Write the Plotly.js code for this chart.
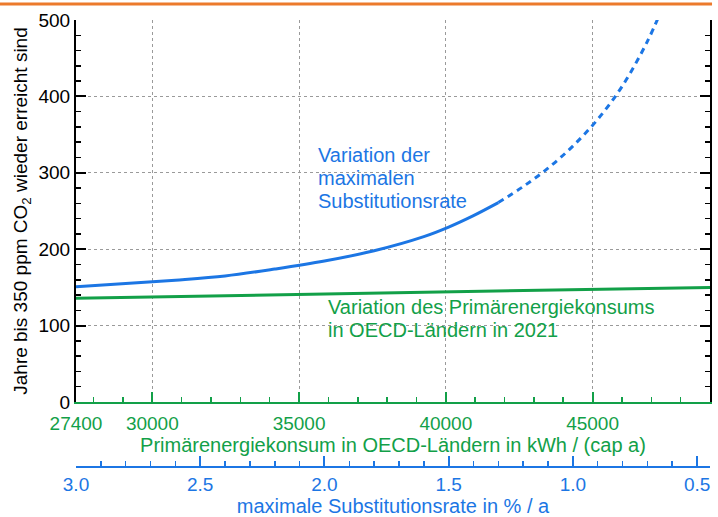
<!DOCTYPE html>
<html>
<head>
<meta charset="utf-8">
<script src="https://cdn.plot.ly/plotly-3.0.1.min.js"></script>
<style>html,body{margin:0;padding:0;background:#fff;}#chart{width:718px;height:517px;}</style>
</head>
<body>
<div id="chart"></div>
<script>
// Blue curve: years vs. maximal substitution rate (% / a)
const subRateSolid = [3.0, 2.8, 2.6, 2.4, 2.2, 2.0, 1.8, 1.6, 1.5, 1.4, 1.3];
const yearsSolid   = [151, 155, 159.5, 165, 174, 184.5, 198, 216.5, 229, 244, 261];
const subRateDashed = [1.3, 1.2, 1.1, 1.0, 0.9, 0.8, 0.7, 0.65];
const yearsDashed   = [261, 282, 306, 335, 370, 414, 472, 508];

// Green curve: years vs. primary energy consumption (kWh / (cap a))
const energy      = [27400, 30000, 35000, 40000, 45000, 49000];
const yearsEnergy = [135.8, 137.5, 141, 143.8, 146.8, 150];

// Tick labels
const energyTicks = [27400, 30000, 35000, 40000, 45000];
const energyTickLabels = ['27400', '30000', '35000', '40000', '45000'];
const topTicks = [30000, 35000, 40000, 45000];

const BLUE = '#1C76E4';
const GREEN = '#12A048';
const ORANGE = '#EC7A2C';
const FONT = 'Arial, "Liberation Sans", sans-serif';

const traces = [
  {x: subRateSolid, y: yearsSolid, xaxis: 'x2', yaxis: 'y', mode: 'lines',
   line: {color: BLUE, width: 3, shape: 'spline'}, hoverinfo: 'skip'},
  {x: subRateDashed, y: yearsDashed, xaxis: 'x2', yaxis: 'y', mode: 'lines',
   line: {color: BLUE, width: 3, shape: 'spline', dash: '6px,5px'}, hoverinfo: 'skip'},
  {x: energy, y: yearsEnergy, xaxis: 'x', yaxis: 'y', mode: 'lines',
   line: {color: GREEN, width: 3}, hoverinfo: 'skip'}
];

const layout = {
  width: 718, height: 517,
  margin: {l: 76, r: 8, t: 20, b: 0},
  paper_bgcolor: '#fff', plot_bgcolor: '#fff',
  showlegend: false,
  font: {family: FONT, size: 19, color: '#000'},
  xaxis: {
    range: [27400, 49000], anchor: 'y',
    tickmode: 'array', tickvals: energyTicks, ticktext: energyTickLabels,
    ticks: 'inside', ticklen: 10, tickwidth: 2, tickcolor: GREEN,
    showline: true, linecolor: GREEN, linewidth: 2,
    tickfont: {color: GREEN, size: 19, family: FONT}, ticklabelstandoff: 3,
    showgrid: true, gridcolor: '#9a9a9a', griddash: 'dot', gridwidth: 1,
    zeroline: false,
    minor: {ticks: 'inside', ticklen: 5, tickwidth: 1.5, tickcolor: GREEN, tickmode: 'linear', tick0: 0, dtick: 1000, showgrid: false},
    title: {text: 'Primärenergiekonsum in OECD-Ländern in kWh / (cap a)', font: {color: GREEN, size: 20, family: FONT}, standoff: 0}
  },
  xaxis2: {
    range: [3.0, 0.448], overlaying: 'x', anchor: 'free', position: 0.1006, side: 'bottom',
    tickmode: 'linear', tick0: 0, dtick: 0.5, tickformat: '.1f',
    ticks: 'inside', ticklen: 10, tickwidth: 2, tickcolor: BLUE,
    showline: true, linecolor: BLUE, linewidth: 2,
    tickfont: {color: BLUE, size: 19, family: FONT},
    showgrid: false, zeroline: false,
    minor: {ticks: 'inside', ticklen: 5, tickwidth: 1.5, tickcolor: BLUE, tickmode: 'linear', tick0: 0, dtick: 0.1, showgrid: false},
    title: {text: 'maximale Substitutionsrate in % / a', font: {color: BLUE, size: 20, family: FONT}, standoff: 2}
  },
  xaxis3: {
    range: [27400, 49000], overlaying: 'x', anchor: 'y', side: 'top',
    tickmode: 'array', tickvals: topTicks,
    ticks: 'inside', ticklen: 10, tickwidth: 2, tickcolor: '#000',
    showline: true, linecolor: '#000', linewidth: 2,
    showticklabels: false, showgrid: false, zeroline: false,
    minor: {ticks: 'inside', ticklen: 5, tickwidth: 1.5, tickcolor: '#000', tickmode: 'linear', tick0: 0, dtick: 1000, showgrid: false}
  },
  yaxis: {
    range: [0, 500], domain: [0.2314, 1], anchor: 'x',
    tickmode: 'linear', tick0: 0, dtick: 100,
    ticks: 'inside', ticklen: 10, tickwidth: 2, tickcolor: '#000',
    showline: true, linecolor: '#000', linewidth: 2, mirror: 'ticks',
    tickfont: {color: '#000', size: 19, family: FONT},
    showgrid: true, gridcolor: '#9a9a9a', griddash: 'dot', gridwidth: 1,
    zeroline: false,
    minor: {ticks: 'inside', ticklen: 5, tickwidth: 1.5, tickcolor: '#000', tickmode: 'linear', tick0: 0, dtick: 20, showgrid: false},
    title: {text: 'Jahre bis 350 ppm CO<sub>2</sub> wieder erreicht sind', font: {color: '#000', size: 19, family: FONT}, standoff: 6}
  },
  shapes: [
    {type: 'line', xref: 'paper', yref: 'paper', x0: -0.1199, x1: 1.0032, y0: 1.0322, y1: 1.0322,
     line: {color: ORANGE, width: 3}}
  ],
  annotations: [
    {text: 'Variation der', xref: 'paper', yref: 'paper', x: 0.3785, y: 0.7284, xanchor: 'left', yanchor: 'middle', showarrow: false, font: {color: BLUE, size: 20, family: FONT}},
    {text: 'maximalen', xref: 'paper', yref: 'paper', x: 0.3785, y: 0.6821, xanchor: 'left', yanchor: 'middle', showarrow: false, font: {color: BLUE, size: 20, family: FONT}},
    {text: 'Substitutionsrate', xref: 'paper', yref: 'paper', x: 0.3785, y: 0.6358, xanchor: 'left', yanchor: 'middle', showarrow: false, font: {color: BLUE, size: 20, family: FONT}},
    {text: 'Variation des Primärenergiekonsums', xref: 'paper', yref: 'paper', x: 0.3943, y: 0.4225, xanchor: 'left', yanchor: 'middle', showarrow: false, font: {color: GREEN, size: 20, family: FONT}},
    {text: 'in OECD-Ländern in 2021', xref: 'paper', yref: 'paper', x: 0.3943, y: 0.3763, xanchor: 'left', yanchor: 'middle', showarrow: false, font: {color: GREEN, size: 20, family: FONT}}
  ]
};

Plotly.newPlot('chart', traces, layout, {displayModeBar: false, staticPlot: true});
</script>
</body>
</html>
